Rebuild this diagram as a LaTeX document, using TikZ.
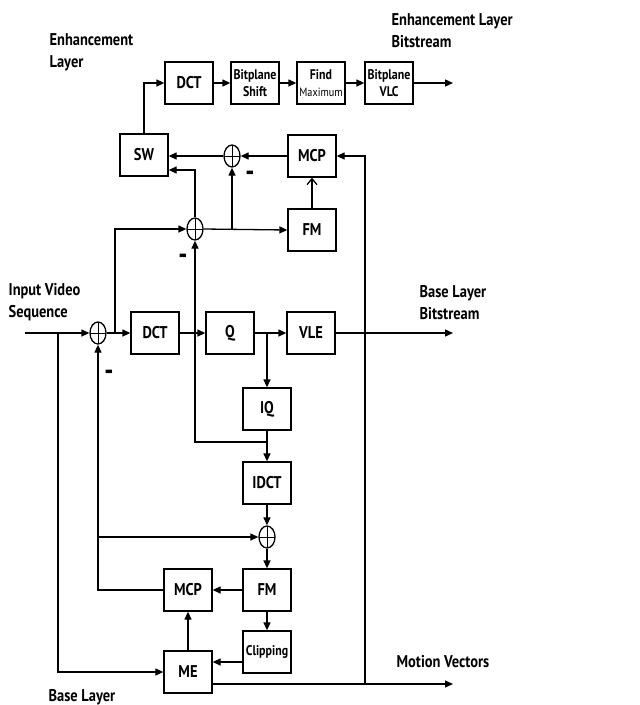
\documentclass[tikz,border=0pt]{standalone}
\usepackage{fontspec}
\setmainfont{PT Sans}[FakeStretch=0.85]
\usetikzlibrary{arrows.meta,shapes.geometric,calc}
\begin{document}
\begin{tikzpicture}[x=1pt,y=-1pt,line width=1.3pt,
  >={Triangle[length=8pt,width=7pt]},
  blk/.style={draw, minimum width=48pt, minimum height=42pt, inner sep=1pt,
    font=\fontsize{17}{18}\selectfont\bfseries, align=center},
  sblk/.style={blk, font=\fontsize{14}{17}\selectfont\bfseries},
  sumn/.style={draw, ellipse, minimum width=16pt, minimum height=22pt, inner sep=0pt,
    path picture={\draw[line width=1pt] (path picture bounding box.north) -- (path picture bounding box.south)
      (path picture bounding box.west) -- (path picture bounding box.east);}},
  lbl/.style={font=\fontsize{17}{22}\selectfont\bfseries, align=left, anchor=base west, inner sep=0pt},
  minus/.style={font=\fontsize{30}{30}\selectfont\bfseries, inner sep=0pt},
  openarr/.style={-{Straight Barb[length=6pt,width=10pt]}}
]
\useasboundingbox[fill=white] (0,0) rectangle (640,705);

% labels (anchor = baseline of last line)
\node[lbl] (tEL) at (49,67) {Enhancement\\Layer};
\node[lbl] (tELB) at (391,47) {Enhancement Layer\\Bitstream};
\node[lbl] (tIVS) at (8,317) {Input Video\\Sequence};
\node[lbl] (tBLB) at (419,319) {Base Layer\\Bitstream};
\node[lbl] (tMV) at (396,667) {Motion Vectors};
\node[lbl] (tBL) at (48,701) {Base Layer};

% enhancement top row
\node[blk] (eDCT) at (189,83) {DCT};
\node[sblk] (bshift) at (255,83) {Bitplane\\Shift};
\node[sblk] (fmax) at (321,83) {Find\\{\mdseries\fontsize{12}{14}\selectfont Maximum}};
\node[sblk] (bvlc) at (389,83) {Bitplane\\VLC};
\coordinate (eout) at (453,83);

\node[blk] (SW) at (144,155) {SW};
\node[sumn] (s1) at (232,156) {};
\node[blk] (mcpT) at (312,156) {MCP};
\node[blk] (fmT) at (312,230) {FM};
\node[sumn] (s2) at (195,229) {};

% base row
\coordinate (inp) at (25,333);
\coordinate (j1) at (58,333);
\node[sumn] (s0) at (98,333) {};
\coordinate (j2) at (115,333);
\node[blk] (bDCT) at (155,333) {DCT};
\node[blk] (Q) at (230,333) {Q};
\coordinate (j3) at (267,333);
\node[blk] (VLE) at (311,333) {VLE};
\coordinate (bout) at (453,333);

\node[blk] (IQ) at (267,409) {IQ};
\coordinate (j4) at (267,442);
\node[blk] (IDCT) at (267,483) {IDCT};
\node[sumn] (s3) at (267,537) {};
\node[blk] (FMb) at (267,590) {FM};
\node[blk] (MCPb) at (188,590) {MCP};
\node[sblk] (Clip) at (267,652) {Clipping};
\node[blk] (ME) at (188,672) {ME};
\coordinate (mvs) at (212,684);
\coordinate (j5) at (365,684);
\coordinate (mvout) at (453,684);
\coordinate (j6) at (98,537);
\coordinate (j7) at (232,229);

% minus signs
\node[minus] (m1) at (250,176) {-};
\node[minus] (m2) at (183,259) {-};
\node[minus] (m3) at (109,375) {-};

% top row connections
\draw[->] (SW.north) |- (eDCT.west);
\draw[->] (eDCT) -- (bshift);
\draw[->] (bshift) -- (fmax);
\draw[->] (fmax) -- (bvlc);
\draw[->] (bvlc) -- (eout);

\draw[->] (mcpT) -- (s1);
\draw[->] (s1) -- (SW.east |- s1);
\draw[openarr] (fmT) -- (mcpT);
\draw[->] (j2) |- (s2.west);
\draw[->] (s2.east) -- (fmT.west);
\draw[->] (j7) -- (s1.south);
\draw[->] (s2.north) |- ($(SW.east)+(0,15)$);
\draw[->] (j4) -| (s2.south);

% base row connections
\draw[->] (inp) -- (s0.west);
\draw[->] (s0.east) -- (bDCT.west);
\draw[->] (bDCT) -- (Q);
\draw[->] (Q) -- (VLE);
\draw[->] (VLE) -- (bout);
\draw[->] (j3) -- (IQ);
\draw[->] (IQ) -- (IDCT);
\draw[->] (IDCT) -- (s3);
\draw[->] (s3) -- (FMb);
\draw[->] (FMb) -- (MCPb);
\draw[->] (FMb) -- (Clip);
\draw[->] (ME) -- (MCPb);
\draw[->] ($(Clip.west)+(0,10)$) -- ($(ME.east)+(0,-10)$);
\draw[->] (j1) |- (ME.west);
\draw[->] (MCPb.west) -| (s0.south);
\draw[->] (j6) -- (s3.west);
\draw[->] (mvs) -- (mvout);
\draw[->] (j5) |- (mcpT.east);
\end{tikzpicture}
\end{document}
